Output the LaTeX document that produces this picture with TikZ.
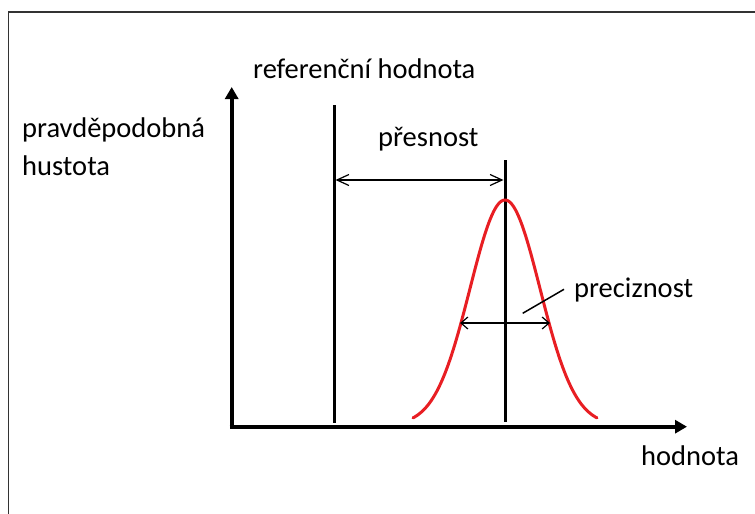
\documentclass[tikz,border=0pt]{standalone}
\usepackage{fontspec}
\setmainfont{Carlito}
\usetikzlibrary{arrows.meta}
\definecolor{curvered}{RGB}{232,30,35}
\begin{document}
\begin{tikzpicture}[x=1pt,y=-1pt,
  lbl/.style={anchor=base west,inner sep=0pt,font=\fontsize{28.5}{34}\selectfont},
  axis/.style={line width=4pt,-{Triangle[length=12pt,width=13pt]}},
  vline/.style={line width=3pt},
  dimarrow/.style={line width=1.2pt,{Straight Barb[length=12pt,width=11pt]}-{Straight Barb[length=12pt,width=11pt]}},
  smallarrow/.style={line width=1.2pt,{Straight Barb[length=7pt,width=12pt]}-{Straight Barb[length=7pt,width=12pt]}},
  curve/.style={line width=3pt,color=curvered}]
\useasboundingbox (0,0) rectangle (755,514);
% frame
\coordinate (fbl) at (8.5,516);
\coordinate (ftl) at (8.5,11.7);
\coordinate (ftr) at (757,11.7);
\draw[line width=1.6pt,color=black!80] (fbl) -- (ftl) -- (ftr);
% axes
\coordinate (o) at (231.7,426.7);
\coordinate (ytip) at (231.7,87);
\coordinate (xtip) at (687,426.7);
\draw[axis] ([yshift=2pt]o) -- (ytip);
\draw[axis] ([xshift=-2pt]o) -- (xtip);
% reference line and mean line
\coordinate (rtop) at (334,105);
\coordinate (rbot) at (334,423);
\coordinate (mtop) at (505,160);
\coordinate (mbot) at (505,422);
\draw[vline] (rtop) -- (rbot);
\draw[vline] (mtop) -- (mbot);
% gaussian
\draw[curve,line cap=round] plot[domain=-92:92,samples=120,smooth] ({505+\x},{425-225*exp(-(\x*\x)/(2*35*35))});
% accuracy arrow
\coordinate (aL) at (335.5,180);
\coordinate (aR) at (503.5,180);
\draw[dimarrow] (aL) -- (aR);
% precision arrow
\coordinate (pL) at (460,323);
\coordinate (pR) at (550,323);
\draw[smallarrow] (pL) -- (pR);
% leader
\coordinate (ld1) at (522.7,313.3);
\coordinate (ld2) at (564,289.3);
\draw[line width=1.5pt] (ld1) -- (ld2);
% labels
\node[lbl] (tref) at (253,78) {referenční hodnota};
\node[lbl] (tpd) at (22,137) {pravděpodobná};
\node[lbl] (thu) at (22,175) {hustota};
\node[lbl] (tpr) at (378,146) {přesnost};
\node[lbl] (tpc) at (574,297) {preciznost};
\node[lbl] (tho) at (641,465) {hodnota};
\end{tikzpicture}
\end{document}
